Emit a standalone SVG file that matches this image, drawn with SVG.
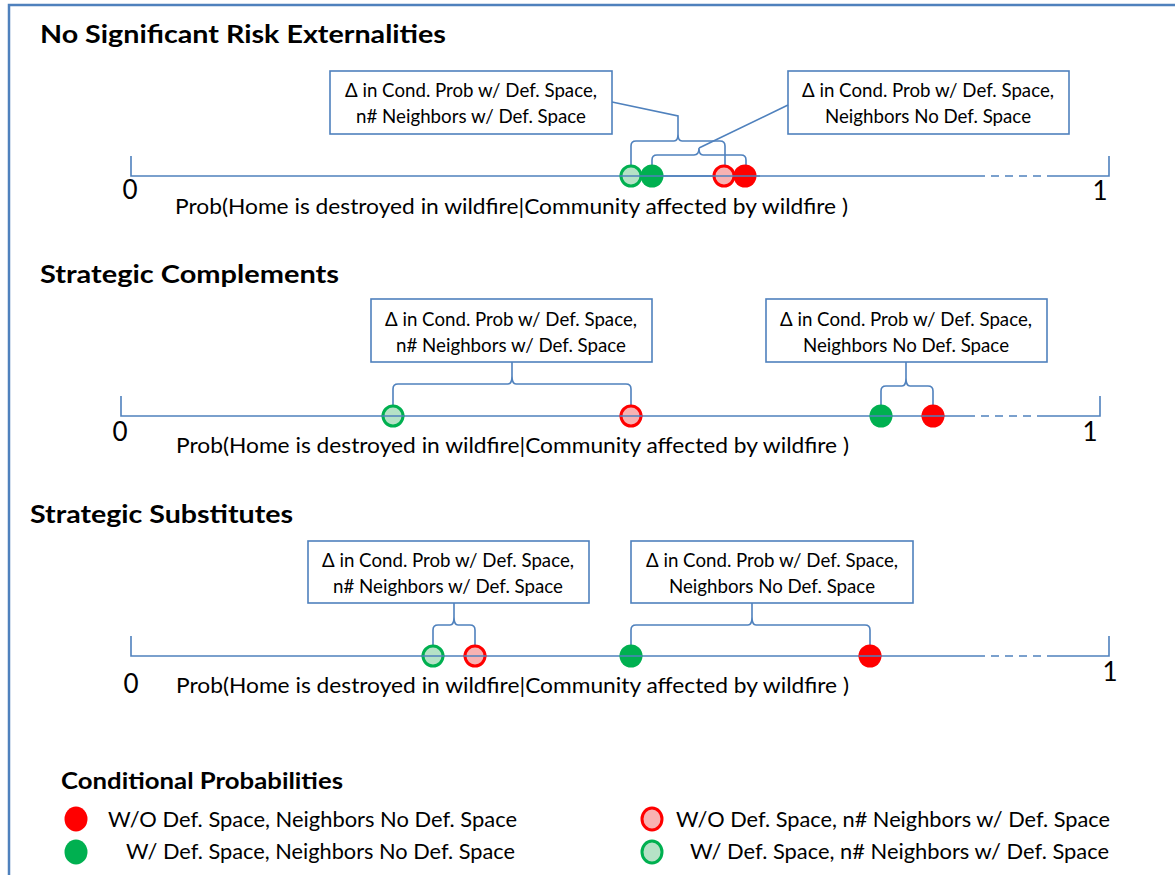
<svg xmlns="http://www.w3.org/2000/svg" width="1175" height="875" viewBox="0 0 1175 875">
<style>
text{font-family:Lato,"Liberation Sans",sans-serif;fill:#000}
.t{font-size:24px;font-weight:bold}
.bx{font-size:19px;text-anchor:middle}
.lbl{font-size:21px}
.num{font-size:26px;text-anchor:middle}
.lg{font-size:21px}
.box{fill:#fff;stroke:#4F81BD;stroke-width:1.6}
.ln{fill:none;stroke:#4F81BD;stroke-width:1.6}
.dash{fill:none;stroke:#4F81BD;stroke-width:1.6;stroke-dasharray:8 6}
.red{fill:#FF0000}
.grn{fill:#00B050}
.lred{fill:#F8B2B2;stroke:#FF0000;stroke-width:3}
.lgrn{fill:#B5E2C6;stroke:#00B050;stroke-width:3}
</style>
<path d="M9,880 L9,5 L1180,5" fill="none" stroke="#4F81BD" stroke-width="2.5"/>

<g id="section1">
<text class="t" x="40" y="43" textLength="406" lengthAdjust="spacingAndGlyphs">No Significant Risk Externalities</text>
<path class="ln" d="M131,156 V176 H985 M1050,176 H1109 V156"/>
<path class="dash" d="M991,176 H1050"/>
<text class="num" x="130" y="199">0</text>
<text class="num" x="1100" y="200">1</text>
<text class="lbl" x="175" y="214" textLength="673" lengthAdjust="spacingAndGlyphs">Prob(Home is destroyed in wildfire|Community affected by wildfire )</text>
</g>
<g id="s1-box1"><rect class="box" x="330" y="71" width="282" height="63"/>
<text class="bx" x="471" y="97" textLength="252" lengthAdjust="spacingAndGlyphs">Δ in Cond. Prob w/ Def. Space,</text>
<text class="bx" x="471" y="123" textLength="230" lengthAdjust="spacingAndGlyphs">n# Neighbors w/ Def. Space</text></g>
<g id="s1-box2"><rect class="box" x="788" y="71" width="281" height="63"/>
<text class="bx" x="928" y="97" textLength="252" lengthAdjust="spacingAndGlyphs">Δ in Cond. Prob w/ Def. Space,</text>
<text class="bx" x="928" y="123" textLength="206" lengthAdjust="spacingAndGlyphs">Neighbors No Def. Space</text></g>

<g id="section2">
<text class="t" x="40" y="283" textLength="299" lengthAdjust="spacingAndGlyphs">Strategic Complements</text>
<path class="ln" d="M121,396 V416 H975 M1040,416 H1100 V396"/>
<path class="dash" d="M981,416 H1040"/>
<text class="num" x="120" y="441">0</text>
<text class="num" x="1090" y="441">1</text>
<text class="lbl" x="176" y="453" textLength="673" lengthAdjust="spacingAndGlyphs">Prob(Home is destroyed in wildfire|Community affected by wildfire )</text>
</g>
<g id="s2-box1"><rect class="box" x="371" y="299" width="281" height="63"/>
<text class="bx" x="511" y="326" textLength="252" lengthAdjust="spacingAndGlyphs">Δ in Cond. Prob w/ Def. Space,</text>
<text class="bx" x="511" y="352" textLength="230" lengthAdjust="spacingAndGlyphs">n# Neighbors w/ Def. Space</text></g>
<g id="s2-box2"><rect class="box" x="766" y="299" width="281" height="63"/>
<text class="bx" x="906" y="326" textLength="252" lengthAdjust="spacingAndGlyphs">Δ in Cond. Prob w/ Def. Space,</text>
<text class="bx" x="906" y="352" textLength="206" lengthAdjust="spacingAndGlyphs">Neighbors No Def. Space</text></g>

<g id="section3">
<text class="t" x="30" y="523" textLength="263" lengthAdjust="spacingAndGlyphs">Strategic Substitutes</text>
<path class="ln" d="M131,636 V656 H985 M1050,656 H1109 V636"/>
<path class="dash" d="M991,656 H1050"/>
<text class="num" x="131" y="693">0</text>
<text class="num" x="1110" y="681">1</text>
<text class="lbl" x="176" y="693" textLength="673" lengthAdjust="spacingAndGlyphs">Prob(Home is destroyed in wildfire|Community affected by wildfire )</text>
</g>
<g id="s3-box1"><rect class="box" x="308" y="541" width="281" height="62"/>
<text class="bx" x="448" y="567" textLength="252" lengthAdjust="spacingAndGlyphs">Δ in Cond. Prob w/ Def. Space,</text>
<text class="bx" x="448" y="593" textLength="230" lengthAdjust="spacingAndGlyphs">n# Neighbors w/ Def. Space</text></g>
<g id="s3-box2"><rect class="box" x="631" y="541" width="282" height="62"/>
<text class="bx" x="772" y="567" textLength="252" lengthAdjust="spacingAndGlyphs">Δ in Cond. Prob w/ Def. Space,</text>
<text class="bx" x="772" y="593" textLength="206" lengthAdjust="spacingAndGlyphs">Neighbors No Def. Space</text></g>

<g id="connectors">
<path class="ln" d="M631,166 V146 Q631,141 636,141 H674 Q678,141 678,134 Q678,141 682,141 H720 Q725,141 725,146 V166 M678,134 V116 L612,102"/>
<path class="ln" d="M652,166 V160 Q652,155 657,155 H694 Q699,155 699,148 Q699,155 703,155 H741 Q746,155 746,160 V166 M699,148 L788,105"/>
<path class="ln" d="M393,406 V389 Q393,384 398,384 H508 Q512,384 512,376 Q512,384 516,384 H626 Q631,384 631,389 V406 M512,376 V362"/>
<path class="ln" d="M881,406 V391 Q881,386 886,386 H902 Q906,386 906,378 Q906,386 910,386 H928 Q933,386 933,391 V406 M906,378 V362"/>
<path class="ln" d="M433,646 V630 Q433,625 438,625 H450 Q454,625 454,617 Q454,625 458,625 H470 Q475,625 475,630 V646 M454,617 V603"/>
<path class="ln" d="M631,646 V630 Q631,625 636,625 H748 Q752,625 752,617 Q752,625 756,625 H865 Q870,625 870,630 V646 M752,617 V603"/>
</g>

<g id="points">
<circle class="lgrn" cx="631" cy="176" r="10"/>
<circle class="grn" cx="652" cy="176" r="11.5"/>
<circle class="lred" cx="724" cy="176" r="10"/>
<circle class="red" cx="745" cy="176" r="11.5"/>
<path class="ln" d="M620,176 H760"/>
<circle class="lgrn" cx="393" cy="416" r="10"/>
<circle class="lred" cx="631" cy="416" r="10"/>
<circle class="grn" cx="881" cy="416" r="11.5"/>
<circle class="red" cx="933" cy="416" r="11.5"/>
<path class="ln" d="M382,416 H404 M620,416 H642 M870,416 H892 M922,416 H944"/>
<circle class="lgrn" cx="433" cy="656" r="10"/>
<circle class="lred" cx="475" cy="656" r="10"/>
<circle class="grn" cx="631" cy="656" r="11.5"/>
<circle class="red" cx="870" cy="656" r="11.5"/>
<path class="ln" d="M422,656 H444 M464,656 H486 M620,656 H642 M859,656 H881"/>
</g>

<g id="legend">
<text class="t" x="61" y="789" style="font-size:22px" textLength="282" lengthAdjust="spacingAndGlyphs">Conditional Probabilities</text>
<ellipse class="red" cx="76" cy="819" rx="11.5" ry="12.5"/>
<text class="lg" x="108" y="827" textLength="409" lengthAdjust="spacingAndGlyphs">W/O Def. Space, Neighbors No Def. Space</text>
<ellipse class="grn" cx="76" cy="852" rx="11.5" ry="12.5"/>
<text class="lg" x="126" y="859" textLength="389" lengthAdjust="spacingAndGlyphs">W/ Def. Space, Neighbors No Def. Space</text>
<ellipse class="lred" cx="652" cy="819" rx="10" ry="11"/>
<text class="lg" x="676" y="827" textLength="434" lengthAdjust="spacingAndGlyphs">W/O Def. Space, n# Neighbors w/ Def. Space</text>
<ellipse class="lgrn" cx="652" cy="852" rx="10" ry="11"/>
<text class="lg" x="690" y="859" textLength="419" lengthAdjust="spacingAndGlyphs">W/ Def. Space, n# Neighbors w/ Def. Space</text>
</g>
</svg>
